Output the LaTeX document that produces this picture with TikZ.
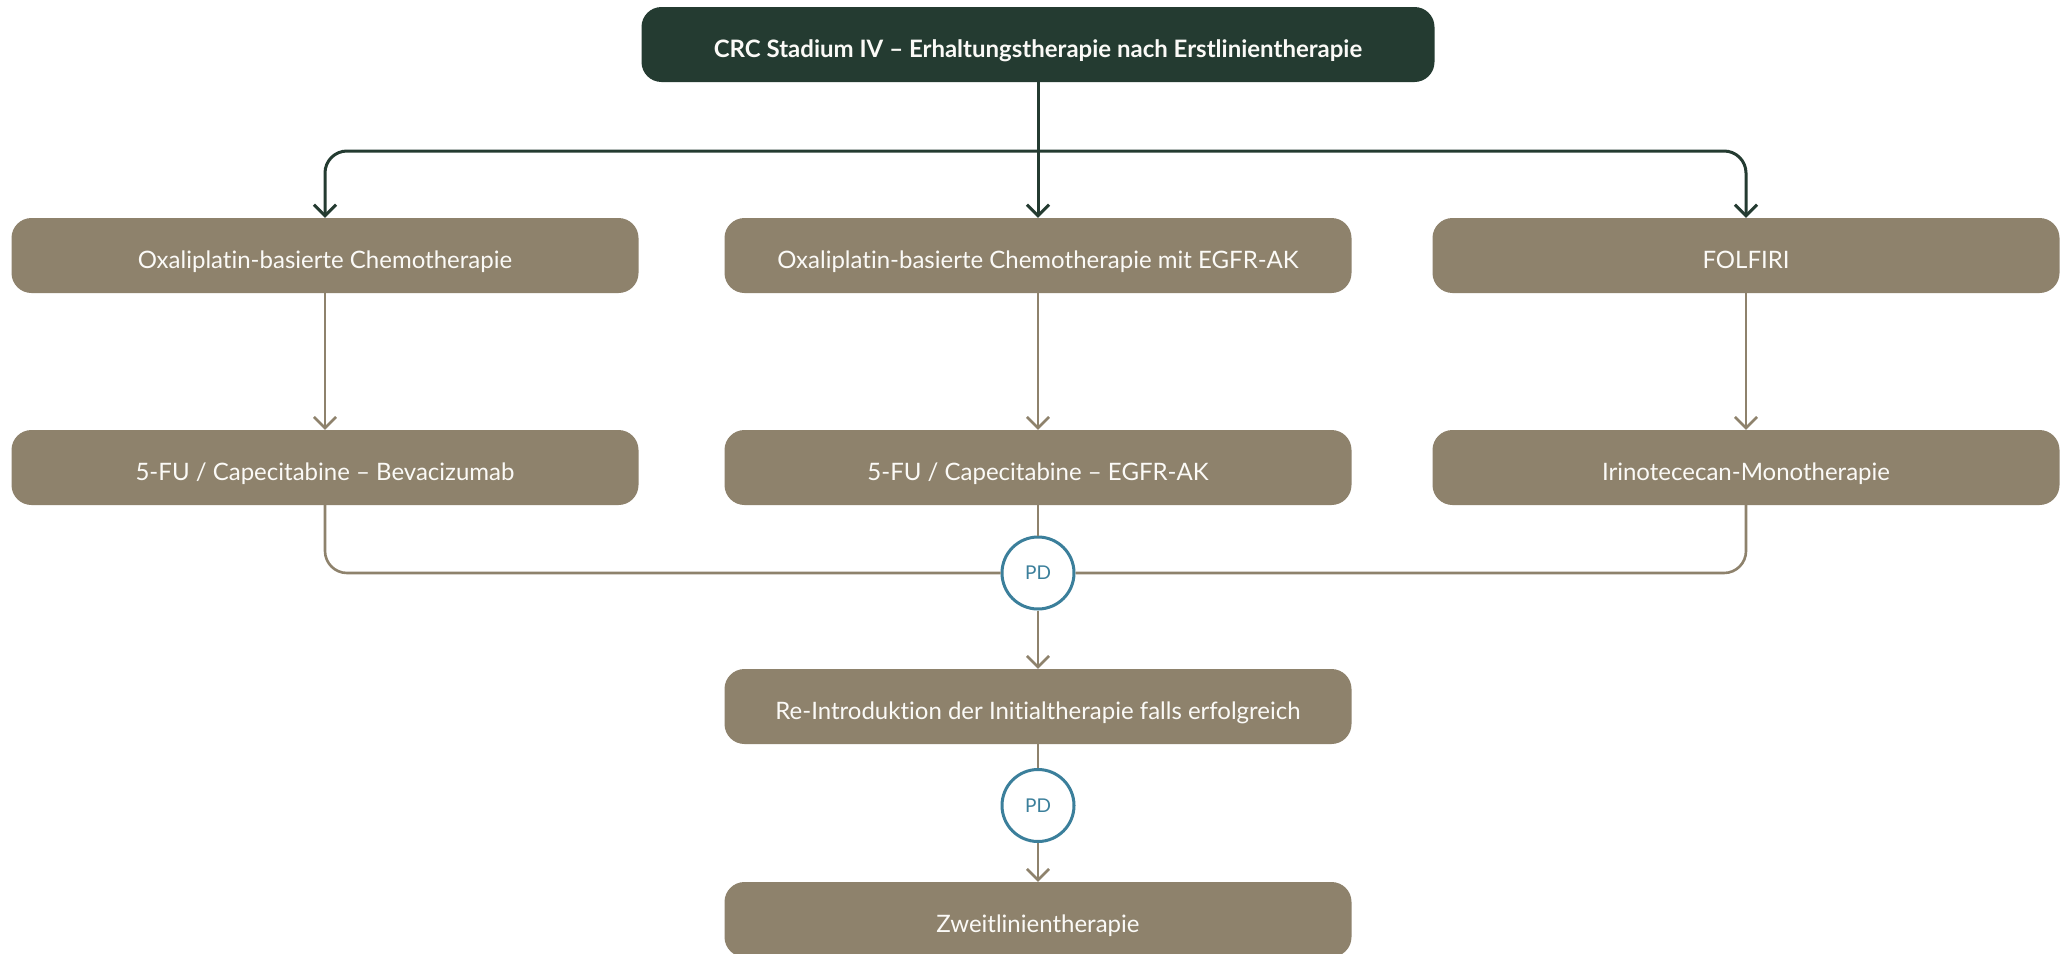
\documentclass[tikz,border=0pt]{standalone}
\usepackage{fontspec}
\setmainfont{Lato}[Ligatures={NoCommon}]
\usetikzlibrary{arrows.meta}

\definecolor{headgreen}{HTML}{243B31}
\definecolor{boxbrown}{HTML}{8E826C}
\definecolor{pdteal}{HTML}{3B7F9B}
\definecolor{boxtext}{HTML}{FBFAF7}

\tikzset{
  headbox/.style={rectangle, rounded corners=20pt, fill=headgreen, text=boxtext,
    minimum width=793pt, minimum height=75pt, inner sep=0pt,
    text height=25pt, text depth=0pt,
    font=\fontsize{24}{28}\selectfont\bfseries},
  stepbox/.style={rectangle, rounded corners=20pt, fill=boxbrown, text=boxtext,
    minimum width=627pt, minimum height=75pt, inner sep=0pt,
    text height=26pt, text depth=0pt,
    font=\fontsize{24}{28}\selectfont},
  pdnode/.style={circle, draw=pdteal, line width=3pt, fill=white, text=pdteal,
    minimum size=72pt, inner sep=0pt, font=\fontsize{19}{22}\selectfont},
  tip/.style={-{Straight Barb[length=11pt,width=22pt]}},
  darkline/.style={draw=headgreen, line width=3pt},
  brownline/.style={draw=boxbrown, line width=2.6pt},
}

\begin{document}
\begin{tikzpicture}[x=1pt, y=-1pt]
  \useasboundingbox[fill=white] (0,0) rectangle (2069,953);

  % header
  \node[headbox] (top) at (1038,44.5) {CRC Stadium IV – Erhaltungstherapie nach Erstlinientherapie};

  % first row
  \node[stepbox] (n11) at (325,255.5)  {Oxaliplatin-basierte Chemotherapie};
  \node[stepbox] (n12) at (1038,255.5) {Oxaliplatin-basierte Chemotherapie mit EGFR-AK};
  \node[stepbox] (n13) at (1746,255.5) {FOLFIRI};

  % second row
  \node[stepbox] (n21) at (325,467.5)  {5-FU / Capecitabine – Bevacizumab};
  \node[stepbox] (n22) at (1038,467.5) {5-FU / Capecitabine – EGFR-AK};
  \node[stepbox] (n23) at (1746,467.5) {Irinotececan-Monotherapie};

  % progression and follow-up
  \node[pdnode] (pd1) at (1038,573) {PD};
  \node[stepbox] (re) at (1038,706.5) {Re-Introduktion der Initialtherapie falls erfolgreich};
  \node[pdnode] (pd2) at (1038,805.5) {PD};
  \node[stepbox] (zw) at (1038,919.5) {Zweitlinientherapie};

  % branching from the header
  \coordinate (split) at (1038,151);
  \draw[darkline, tip] (top.south) -- (n12.north);
  \draw[darkline, tip, rounded corners=22pt] (split) -| (n11.north);
  \draw[darkline, tip, rounded corners=22pt] (split) -| (n13.north);

  % first row to second row
  \draw[brownline, tip] (n11.south) -- (n21.north);
  \draw[brownline, tip] (n12.south) -- (n22.north);
  \draw[brownline, tip] (n13.south) -- (n23.north);

  % merging into progression
  \draw[brownline, rounded corners=22pt] (n21.south) |- (pd1);
  \draw[brownline, rounded corners=22pt] (n23.south) |- (pd1);
  \draw[brownline] (n22.south) -- (pd1.north);

  \draw[brownline, tip] (pd1.south) -- (re.north);
  \draw[brownline] (re.south) -- (pd2.north);
  \draw[brownline, tip] (pd2.south) -- (zw.north);
\end{tikzpicture}
\end{document}
